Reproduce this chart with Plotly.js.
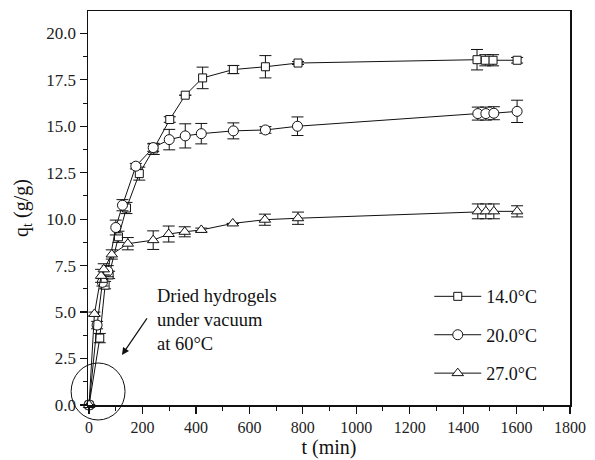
<!DOCTYPE html>
<html>
<head>
<meta charset="utf-8">
<script src="https://cdn.plot.ly/plotly-3.0.1.min.js"></script>
<style>html,body{margin:0;padding:0;background:#fff;}#chart{width:595px;height:460px;}</style>
</head>
<body>
<div id="chart"></div>
<script>
// 14.0 °C (squares)
const t14 = [0, 40, 60, 75, 110, 140, 188, 242, 302, 360, 425, 540, 660, 782, 1452, 1483, 1512, 1602];
const q14 = [0, 3.6, 6.45, 7.0, 9.05, 10.6, 12.45, 13.78, 15.36, 16.67, 17.6, 18.05, 18.2, 18.4, 18.58, 18.55, 18.55, 18.55];
const e14 = [0, 0.25, 0.2, 0.2, 0.3, 0.3, 0.35, 0.3, 0.15, 0, 0.58, 0.22, 0.6, 0.08, 0.55, 0.3, 0.3, 0.15];
// 20.0 °C (circles)
const t20 = [0, 30, 50, 70, 100, 125, 175, 240, 300, 360, 420, 540, 660, 780, 1455, 1485, 1515, 1602];
const q20 = [0, 4.3, 6.6, 7.2, 9.55, 10.75, 12.85, 13.85, 14.28, 14.48, 14.6, 14.75, 14.8, 15.0, 15.68, 15.68, 15.7, 15.8];
const e20 = [0, 0.2, 0.2, 0.3, 0.4, 0.3, 0.15, 0.2, 0.55, 0.65, 0.55, 0.43, 0.18, 0.5, 0.35, 0.35, 0.35, 0.6];
// 27.0 °C (triangles)
const t27 = [0, 20, 45, 55, 85, 145, 240, 298, 358, 420, 538, 658, 782, 1455, 1485, 1515, 1602];
const q27 = [0, 4.9, 6.95, 7.3, 8.1, 8.68, 8.87, 9.2, 9.32, 9.42, 9.77, 9.97, 10.05, 10.42, 10.42, 10.42, 10.42];
const e27 = [0, 0.1, 0.35, 0.3, 0.25, 0.33, 0.5, 0.43, 0.27, 0.1, 0, 0.3, 0.33, 0.4, 0.4, 0.4, 0.3];

const names = ['14.0°C', '20.0°C', '27.0°C'];
const symbols = ['square', 'circle', 'triangle-up'];
const sizes = [8, 10, 10];

const FONT = 'Liberation Serif, Times New Roman, serif';

function mk(t, q, e, i) {
  return {
    x: t, y: q, name: names[i], legendgroup: 'g' + i,
    type: 'scatter', mode: 'lines+markers',
    line: {color: '#111', width: 1},
    marker: {symbol: symbols[i], size: sizes[i], color: '#fff', line: {color: '#111', width: 1}},
    error_y: {type: 'data', array: e, visible: true, color: '#111', thickness: 1, width: 6},
    cliponaxis: false
  };
}

const data = [mk(t14, q14, e14, 0), mk(t20, q20, e20, 1), mk(t27, q27, e27, 2)];

const layout = {
  width: 595, height: 460,
  margin: {l: 88, r: 25, t: 11, b: 55},
  paper_bgcolor: '#fff', plot_bgcolor: '#fff',
  font: {family: FONT, color: '#111', size: 16},
  showlegend: true,
  legend: {x: 0.708, y: 0.322, xanchor: 'left', yanchor: 'top', bgcolor: 'rgba(0,0,0,0)',
           itemwidth: 47,
           font: {family: FONT, size: 18, color: '#111'}, tracegroupgap: 12, traceorder: 'grouped'},
  xaxis: {
    range: [-4, 1800], dtick: 200, tick0: 0,
    showline: true, linecolor: '#111', linewidth: 1.5, mirror: true,
    ticks: 'outside', ticklen: 7, tickwidth: 1.2, tickcolor: '#111',
    minor: {dtick: 100, ticks: 'outside', ticklen: 4, tickwidth: 1, tickcolor: '#111'},
    showgrid: false, zeroline: false,
    tickfont: {family: FONT, size: 16, color: '#222'},
    title: {text: 't (min)', font: {family: FONT, size: 20, color: '#111'}, standoff: 2}
  },
  yaxis: {
    range: [0, 21.2], dtick: 2.5, tick0: 0, tickformat: '.1f',
    showline: true, linecolor: '#111', linewidth: 1.5, mirror: true,
    ticks: 'outside', ticklen: 7, tickwidth: 1.2, tickcolor: '#111',
    minor: {dtick: 1.25, ticks: 'outside', ticklen: 4, tickwidth: 1, tickcolor: '#111'},
    showgrid: false, zeroline: false,
    tickfont: {family: FONT, size: 17, color: '#222'},
    title: {text: 'q<sub>t</sub> (g/g)', font: {family: FONT, size: 20, color: '#111'}, standoff: 12}
  },
  shapes: [{
    type: 'circle', xref: 'paper', yref: 'paper',
    x0: -0.035, x1: 0.0768, y0: -0.038, y1: 0.1066,
    line: {color: '#111', width: 1}, layer: 'above'
  }],
  annotations: [
    {xref: 'paper', yref: 'paper', x: 0.139, y: 0.216, xanchor: 'left', yanchor: 'middle', align: 'left',
     text: 'Dried hydrogels<br>under vacuum<br>at 60°C', showarrow: false,
     font: {family: FONT, size: 18.5, color: '#111'}},
    {xref: 'paper', yref: 'paper', x: 0.0705, y: 0.127, text: '', showarrow: true,
     ax: 26, ay: -38, arrowhead: 2, arrowsize: 1.2, arrowwidth: 1.2, arrowcolor: '#111'}
  ]
};

Plotly.newPlot('chart', data, layout, {displayModeBar: false, staticPlot: true});
</script>
</body>
</html>
